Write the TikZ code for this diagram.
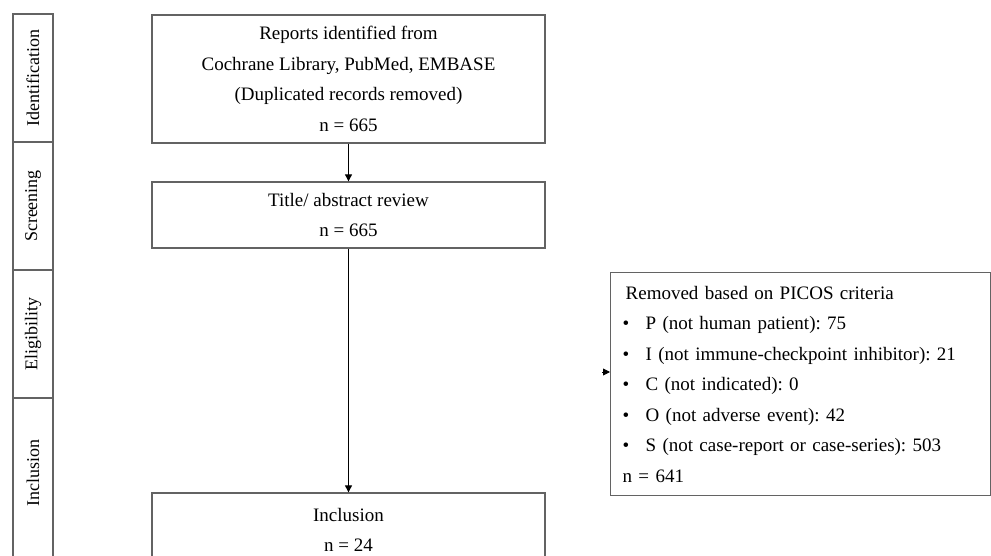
\documentclass[tikz,border=0pt]{standalone}
\usepackage{fontspec}
\setmainfont{Liberation Serif}
\usetikzlibrary{arrows.meta}
\definecolor{boxgray}{HTML}{636363}
\newcommand\mainfs{\fontsize{19bp}{30.5bp}\selectfont\frenchspacing}
\newcommand\phasefs{\fontsize{18bp}{22bp}\selectfont}
\begin{document}
\frenchspacing
\begin{tikzpicture}[x=1bp,y=-1bp,
  boxst/.style={draw=boxgray, line width=1.3bp, inner sep=0pt, align=center, font=\mainfs},
  phasebox/.style={draw=boxgray, line width=1.3bp, inner sep=0pt, rotate=90, minimum height=40bp, font=\phasefs},
  arr/.style={draw=black, line width=0.9bp, -{Triangle[length=7bp,width=7bp]}}]
\useasboundingbox (0,0) rectangle (991,556);
\clip (0,0) rectangle (991,556);
% phase bars
\node[phasebox, minimum width=128bp] (ph1) at (33,78) {Identification};
\node[phasebox, minimum width=128bp] (ph2) at (33,206) {Screening};
\node[phasebox, minimum width=128bp] (ph3) at (33,334) {Eligibility};
\node[phasebox, minimum width=170bp] (ph4) at (33,483) {};
\node[rotate=90, font=\phasefs, inner sep=0pt] (ph4t) at (33,473) {Inclusion};
% main boxes
\node[boxst, minimum width=393bp, minimum height=128bp] (rep) at (348.5,79)
  {Reports identified from\\Cochrane Library, PubMed, EMBASE\\(Duplicated records removed)\\n = 665};
\node[boxst, minimum width=393bp, minimum height=66bp] (tit) at (348.5,215)
  {Title/ abstract review\\n = 665};
\node[boxst, minimum width=393bp, minimum height=74bp] (inc) at (348.5,530)
  {Inclusion\\n = 24};
% removed box
\node[boxst, anchor=north west, minimum width=380bp, minimum height=223bp,
      text width=356bp, inner xsep=12bp, align=left] (rem) at (610,272)
  {\hspace*{3bp}Removed based on PICOS criteria\\
   \makebox[23bp][l]{\textbullet}P (not human patient): 75\\
   \makebox[23bp][l]{\textbullet}I (not immune-checkpoint inhibitor): 21\\
   \makebox[23bp][l]{\textbullet}C (not indicated): 0\\
   \makebox[23bp][l]{\textbullet}O (not adverse event): 42\\
   \makebox[23bp][l]{\textbullet}S (not case-report or case-series): 503\\
   n = 641};
% connectors
\draw[arr] (rep) -- (tit);
\draw[arr] (tit) -- (inc);
\coordinate (ah) at (602,372);
\draw[arr] (ah) -- (ah -| rem.west);
\end{tikzpicture}
\end{document}
